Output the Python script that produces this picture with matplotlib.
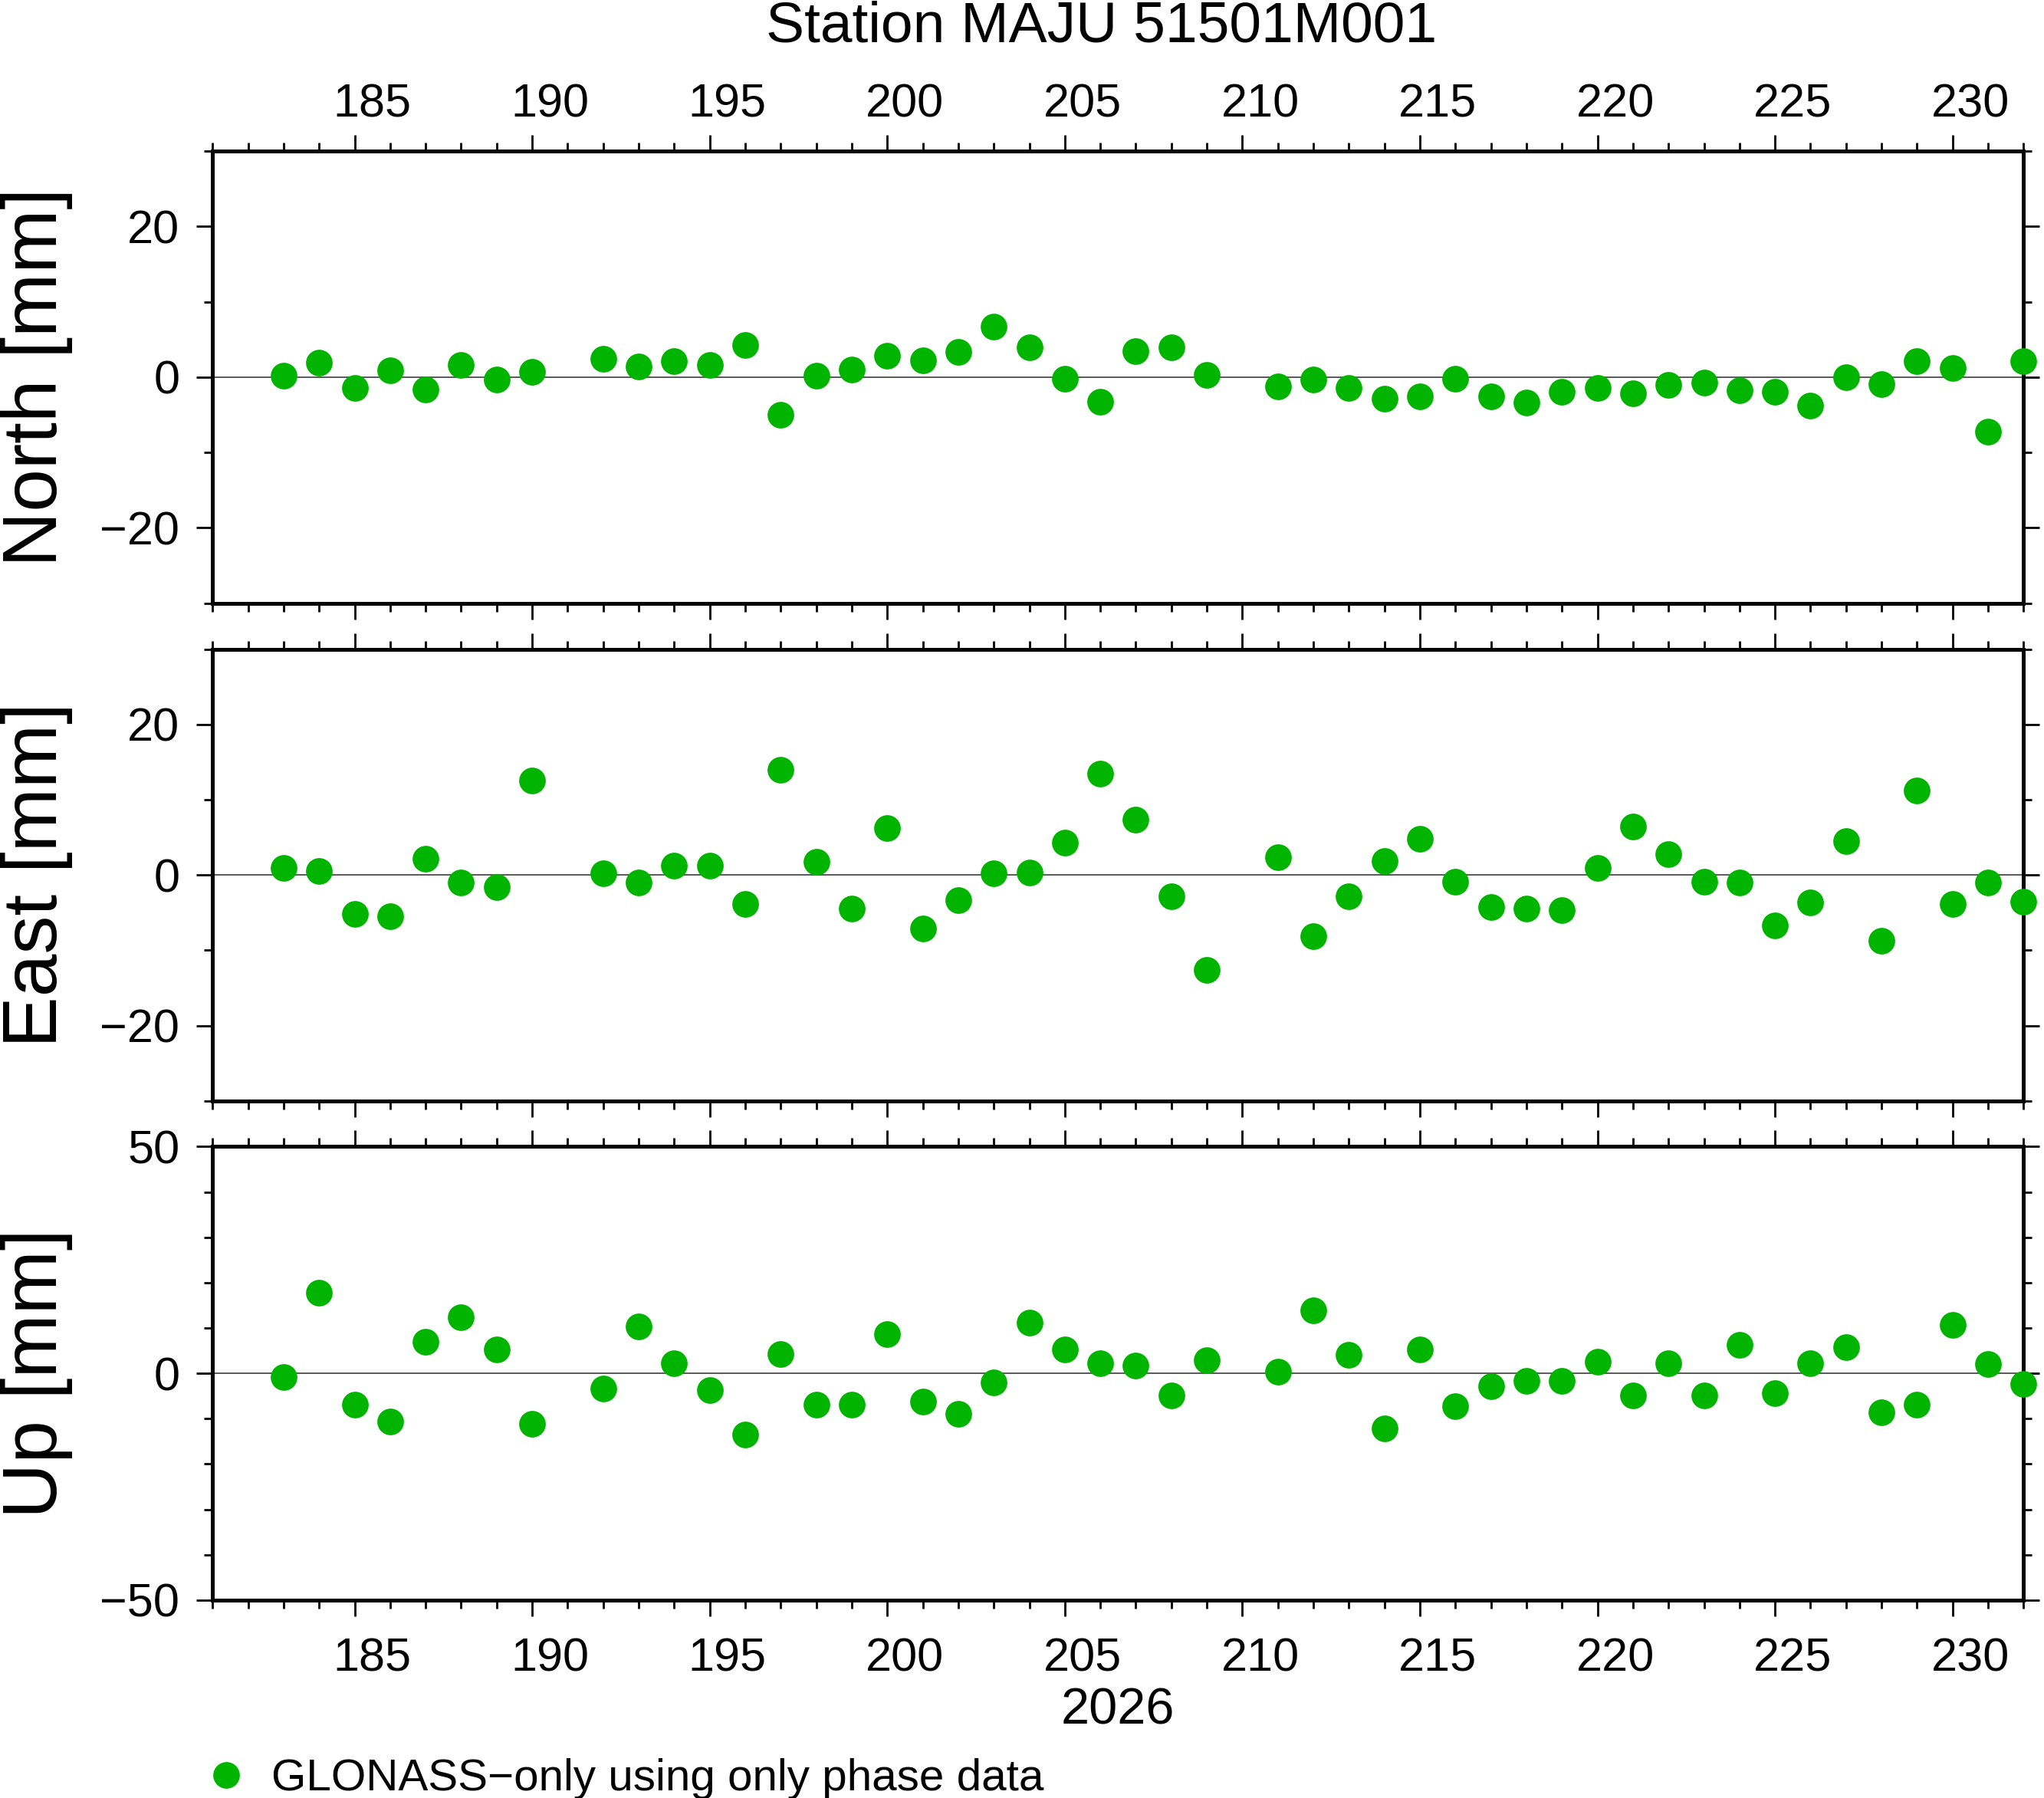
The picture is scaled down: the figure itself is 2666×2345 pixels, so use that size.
import matplotlib
matplotlib.use("Agg")
import matplotlib.pyplot as plt
from matplotlib.ticker import MultipleLocator
from matplotlib.transforms import ScaledTranslation

plt.rcParams['font.family'] = ['Liberation Sans', 'DejaVu Sans']

# dias del año (faltan 191 y 210)
dias = [183, 184, 185, 186, 187, 188, 189, 190,
        192, 193, 194, 195, 196, 197, 198, 199, 200, 201, 202, 203, 204,
        205, 206, 207, 208, 209,
        211, 212, 213, 214, 215, 216, 217, 218, 219, 220, 221, 222, 223,
        224, 225, 226, 227, 228, 229, 230, 231, 232]

norte = [0.2, 1.9, -1.4, 0.9, -1.6, 1.6, -0.3, 0.7,
         2.4, 1.4, 2.1, 1.6, 4.3, -5.0, 0.2, 1.0, 2.8, 2.2, 3.3, 6.7, 4.0,
         -0.2, -3.3, 3.4, 4.0, 0.3,
         -1.2, -0.3, -1.4, -2.9, -2.6, -0.2, -2.6, -3.4, -1.9, -1.4, -2.2, -1.0, -0.7,
         -1.7, -1.9, -3.8, 0.0, -0.9, 2.1, 1.2, -7.2, 2.1]

este = [0.9, 0.5, -5.2, -5.5, 2.2, -1.0, -1.6, 12.5,
        0.2, -1.0, 1.2, 1.2, -3.8, 14.0, 1.7, -4.5, 6.2, -7.1, -3.3, 0.2, 0.3,
        4.3, 13.5, 7.3, -2.8, -12.6,
        2.4, -8.1, -2.8, 1.9, 4.8, -0.9, -4.3, -4.5, -4.7, 0.9, 6.4, 2.8, -0.9,
        -1.0, -6.7, -3.6, 4.5, -8.7, 11.2, -3.8, -1.0, -3.5]

arriba = [-0.9, 17.8, -6.9, -10.6, 6.9, 12.4, 5.2, -11.2,
          -3.4, 10.3, 2.3, -3.7, -13.5, 4.3, -6.9, -6.9, 8.6, -6.3, -8.9, -2.0, 11.2,
          5.2, 2.3, 1.7, -4.9, 2.9,
          0.3, 13.8, 4.0, -12.1, 5.2, -7.2, -2.9, -1.7, -1.7, 2.6, -4.9, 2.3, -4.9,
          6.3, -4.3, 2.3, 5.7, -8.6, -6.9, 10.6, 2.0, -2.3]

componentes = ['North [mm]', 'East [mm]', 'Up [mm]']
limites = [30, 30, 50]
paso_mayor = [20, 20, 50]
paso_menor = [10, 10, 10]
dias_etiqueta = [185, 190, 195, 200, 205, 210, 215, 220, 225, 230]

verde = '#00b400'

fig = plt.figure(figsize=(13.33, 11.725), dpi=200)

posiciones = [(0.104, 0.6645, 0.886, 0.2515),
              (0.104, 0.3877, 0.886, 0.2513),
              (0.104, 0.1101, 0.886, 0.2522)]

series = [norte, este, arriba]
ejes = []
for i in range(3):
    ax = fig.add_axes(posiciones[i])
    ax.axhline(0, color='0.35', lw=0.7, zorder=1)
    ax.plot(dias, series[i], 'o', color=verde, markersize=12.5,
            markeredgewidth=0, clip_on=False, zorder=3)
    ax.set_xlim(181, 232)
    ax.set_ylim(-limites[i], limites[i])
    ax.set_xticks(dias_etiqueta)
    ax.xaxis.set_minor_locator(MultipleLocator(1))
    ax.yaxis.set_major_locator(MultipleLocator(paso_mayor[i]))
    ax.yaxis.set_minor_locator(MultipleLocator(paso_menor[i]))
    for s in ax.spines.values():
        s.set_linewidth(1.8)
    ax.tick_params(which='both', direction='out', top=True, right=True,
                   labelsize=22, width=1.0)
    ax.tick_params(which='major', length=7.5, pad=8)
    ax.tick_params(which='minor', length=3.8)
    ax.tick_params(axis='x', which='major', pad=10,
                   labelbottom=(i == 2), labeltop=(i == 0))
    # etiquetas de dia centradas en el intervalo del dia
    dx = 0.5 * 0.886 * 13.33 / 51
    desplaza = ScaledTranslation(dx, 0, fig.dpi_scale_trans)
    baja = ScaledTranslation(dx, -6 / 72, fig.dpi_scale_trans)
    for t in ax.xaxis.get_major_ticks():
        t.label1.set_transform(t.label1.get_transform() + desplaza)
        t.label2.set_transform(t.label2.get_transform() + baja)
    ax.set_ylabel(componentes[i], fontsize=36)
    ax.yaxis.set_label_coords(-0.077, 0.5)
    ejes.append(ax)

ejes[2].set_xlabel('2026', fontsize=24, labelpad=3)
fig.text(0.539, 0.985, 'Station MAJU 51501M001', fontsize=27,
         ha='center', va='center')

# leyenda
ejes[2].plot([], [], 'o', color=verde, markersize=12.5, markeredgewidth=0,
             label='GLONASS\u2212only using only phase data')
ejes[2].legend(loc='upper left', bbox_to_anchor=(-0.017, -0.31), frameon=False,
               fontsize=21, handletextpad=0.4, handlelength=1.2,
               borderaxespad=0)

fig.savefig('out.png', dpi=200)
